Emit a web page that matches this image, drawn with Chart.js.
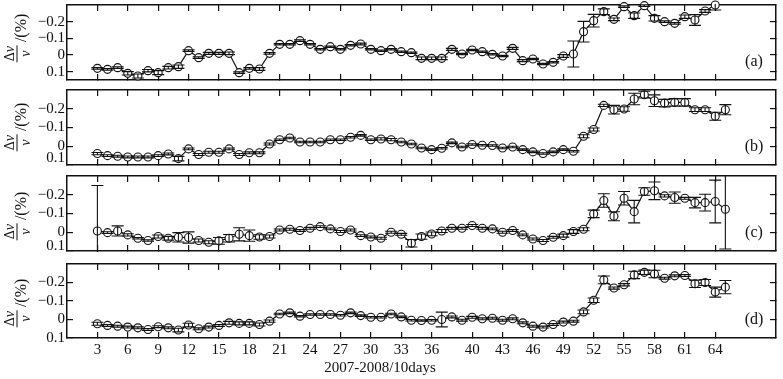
<!DOCTYPE html>
<html>
<head>
<meta charset="utf-8">
<script src="https://cdn.jsdelivr.net/npm/chart.js@4.4.0/dist/chart.umd.min.js"></script>
<style>
  html, body { margin: 0; padding: 0; background: #fff; }
  #wrap { position: relative; width: 783px; height: 379px; overflow: hidden;
          font-family: "Liberation Serif", "Times New Roman", serif; color: #111; }
  #wrap canvas { position: absolute; left: 0; }
  .ylab { position: absolute; left: 17px; transform: translate(-50%, -50%) rotate(-90deg);
          white-space: nowrap; display: flex; align-items: center; }
  .frac { display: inline-flex; flex-direction: column; align-items: center; font-size: 14px; line-height: 13px; }
  .frac .num { border-bottom: 1px solid #111; padding: 0 1px 1px; }
  .frac .den { padding-top: 1px; }
  .pct { font-size: 16px; margin-left: 3px; position: relative; top: 3px; }
  .plab { position: absolute; left: 754px; transform: translate(-50%, -50%); font-size: 16px; }
  #xtitle { position: absolute; left: 380px; top: 360px; transform: translateX(-50%);
            font-size: 15px; line-height: 15px; white-space: nowrap; }
</style>
</head>
<body>
<div id="wrap">
  <canvas id="pa" width="783" height="95" style="top:-5px"></canvas>
  <canvas id="pb" width="783" height="95" style="top:80px"></canvas>
  <canvas id="pc" width="783" height="95" style="top:166px"></canvas>
  <canvas id="pd" width="783" height="125" style="top:254px"></canvas>

  <div class="ylab" style="top:38px"><span class="frac"><span class="num">Δ<i>v</i></span><span class="den"><i>v</i></span></span><span class="pct">/(%)</span></div>
  <div class="ylab" style="top:127px"><span class="frac"><span class="num">Δ<i>v</i></span><span class="den"><i>v</i></span></span><span class="pct">/(%)</span></div>
  <div class="ylab" style="top:216px"><span class="frac"><span class="num">Δ<i>v</i></span><span class="den"><i>v</i></span></span><span class="pct">/(%)</span></div>
  <div class="ylab" style="top:303px"><span class="frac"><span class="num">Δ<i>v</i></span><span class="den"><i>v</i></span></span><span class="pct">/(%)</span></div>

  <div class="plab" style="top:61px">(a)</div>
  <div class="plab" style="top:146px">(b)</div>
  <div class="plab" style="top:232px">(c)</div>
  <div class="plab" style="top:319px">(d)</div>

  <div id="xtitle">2007-2008/10days</div>
</div>
<script>
  // x positions (10-day windows) and axis ticks
  const days = [3, 4, 5, 6, 7, 8, 9, 10, 11, 12, 13, 14, 15, 16, 17, 18, 19, 20, 21, 22, 23, 24, 25, 26, 27, 28, 29, 30,
    31, 32, 33, 34, 35, 36, 37, 38, 39, 40, 41, 42, 43, 44, 45, 46, 47, 48, 49, 50, 51, 52, 53, 54, 55, 56, 57, 58, 59,
    60, 61, 62, 63, 64, 65];
  const xTicks = [3, 6, 9, 12, 15, 18, 21, 24, 27, 30, 33, 36, 40, 43, 46, 49, 52, 55, 58, 61, 64];
  const yTicks = [-0.2, -0.1, 0, 0.1];

  // panel (a): velocity change (%) and error, days 3..64
  const dvA = [0.08, 0.086, 0.076, 0.11, 0.126, 0.094, 0.106, 0.076, 0.07, -0.026, 0.016, -0.01, -0.01, -0.01,
    0.106, 0.08, 0.084, -0.01, -0.064, -0.064, -0.086, -0.064, -0.034, -0.05, -0.034, -0.058, -0.066, -0.034,
    -0.026, -0.034, -0.02, -0.014, 0.02, 0.02, 0.02, -0.034, -0.006, -0.03, -0.02, -0.004, 0.006, -0.04, 0.034,
    0.024, 0.054, 0.044, 0.006, -0.006, -0.14, -0.206, -0.26, -0.214, -0.29, -0.236, -0.296, -0.22, -0.2, -0.19,
    -0.23, -0.21, -0.264, -0.3];
  const errA = [0.005, 0.005, 0.005, 0.01, 0.012, 0.007, 0.012, 0.008, 0.01, 0.005, 0.005, 0.006, 0.006, 0.008,
    0.005, 0.005, 0.008, 0.005, 0.004, 0.004, 0.005, 0.004, 0.004, 0.004, 0.004, 0.004, 0.005, 0.004, 0.004, 0.004,
    0.004, 0.004, 0.008, 0.008, 0.008, 0.006, 0.004, 0.004, 0.004, 0.004, 0.004, 0.006, 0.006, 0.004, 0.004, 0.004,
    0.008, 0.078, 0.062, 0.038, 0.017, 0.008, 0.005, 0.016, 0.005, 0.016, 0.005, 0.005, 0.01, 0.032, 0.008, 0.03];

  // panel (b), days 3..65
  const dvB = [0.039, 0.05, 0.053, 0.057, 0.057, 0.057, 0.05, 0.041, 0.066, 0.014, 0.044, 0.032, 0.032, 0.014,
    0.044, 0.035, 0.035, -0.012, -0.035, -0.044, -0.023, -0.023, -0.023, -0.035, -0.035, -0.048, -0.058, -0.035,
    -0.039, -0.035, -0.023, -0.012, 0.009, 0.018, 0.011, -0.018, 0.004, -0.009, -0.005, -0.004, 0.009, 0.004,
    0.018, 0.03, 0.039, 0.03, 0.018, 0.027, -0.053, -0.089, -0.218, -0.195, -0.199, -0.252, -0.275, -0.243,
    -0.23, -0.234, -0.234, -0.195, -0.195, -0.16, -0.195];
  const errB = [0.006, 0.005, 0.005, 0.005, 0.005, 0.005, 0.005, 0.005, 0.012, 0.005, 0.005, 0.005, 0.005, 0.005,
    0.005, 0.005, 0.005, 0.005, 0.004, 0.004, 0.004, 0.004, 0.004, 0.004, 0.004, 0.004, 0.004, 0.004, 0.006, 0.006,
    0.004, 0.004, 0.004, 0.004, 0.004, 0.004, 0.004, 0.004, 0.004, 0.004, 0.004, 0.004, 0.004, 0.004, 0.004, 0.004,
    0.004, 0.004, 0.008, 0.008, 0.006, 0.023, 0.012, 0.031, 0.018, 0.031, 0.02, 0.02, 0.02, 0.01, 0.01, 0.021, 0.027];

  // panel (c), days 3..65
  const dvC = [-0.007, 0.002, -0.007, 0.014, 0.032, 0.044, 0.023, 0.032, 0.027, 0.028, 0.044, 0.053, 0.046, 0.032,
    0.011, 0.018, 0.025, 0.023, -0.012, -0.016, -0.009, -0.021, -0.03, -0.018, -0.004, -0.012, 0.018, 0.025, 0.032,
    0.0, 0.011, 0.059, 0.023, 0.009, -0.007, -0.021, -0.021, -0.036, -0.021, -0.018, 0.0, -0.009, 0.014, 0.036,
    0.044, 0.027, 0.018, -0.004, -0.016, -0.098, -0.169, -0.085, -0.181, -0.11, -0.217, -0.221, -0.194, -0.185,
    -0.181, -0.158, -0.158, -0.164, -0.123];
  const errC = [0.242, 0.005, 0.027, 0.006, 0.004, 0.004, 0.008, 0.01, 0.025, 0.03, 0.008, 0.008, 0.018, 0.02,
    0.035, 0.03, 0.012, 0.008, 0.005, 0.005, 0.005, 0.005, 0.005, 0.005, 0.005, 0.005, 0.005, 0.005, 0.005, 0.005,
    0.005, 0.02, 0.014, 0.01, 0.008, 0.005, 0.005, 0.005, 0.005, 0.005, 0.005, 0.005, 0.005, 0.005, 0.005, 0.005,
    0.008, 0.01, 0.008, 0.02, 0.036, 0.024, 0.036, 0.06, 0.02, 0.047, 0.006, 0.03, 0.005, 0.028, 0.045, 0.114, 0.212];

  // panel (d), days 3..65
  const dvD = [0.023, 0.032, 0.036, 0.041, 0.045, 0.054, 0.039, 0.045, 0.057, 0.03, 0.05, 0.041, 0.032, 0.018,
    0.021, 0.021, 0.027, 0.009, -0.03, -0.036, -0.018, -0.027, -0.027, -0.027, -0.023, -0.036, -0.021, -0.012,
    -0.012, -0.03, -0.014, 0.004, 0.005, 0.004, 0.0, -0.014, 0.004, -0.012, -0.004, -0.007, 0.004, -0.004, 0.018,
    0.036, 0.041, 0.027, 0.014, 0.009, -0.041, -0.104, -0.214, -0.17, -0.188, -0.241, -0.255, -0.246, -0.223,
    -0.236, -0.238, -0.193, -0.2, -0.148, -0.175];
  const errD = [0.008, 0.005, 0.005, 0.005, 0.005, 0.005, 0.005, 0.005, 0.01, 0.01, 0.005, 0.005, 0.005, 0.008,
    0.008, 0.008, 0.008, 0.006, 0.004, 0.004, 0.004, 0.004, 0.004, 0.004, 0.004, 0.004, 0.004, 0.004, 0.004, 0.004,
    0.004, 0.004, 0.004, 0.004, 0.04, 0.005, 0.005, 0.005, 0.005, 0.005, 0.005, 0.005, 0.005, 0.005, 0.005, 0.005,
    0.005, 0.005, 0.01, 0.012, 0.021, 0.006, 0.006, 0.02, 0.012, 0.02, 0.005, 0.005, 0.005, 0.02, 0.016, 0.027, 0.036];

  const INK = '#111';
  const FONT = 'Liberation Serif';

  // draws vertical error bars with caps, using the chart's own scales
  const errorBars = {
    id: 'errorBars',
    afterDatasetsDraw(chart) {
      const { ctx, chartArea, scales } = chart;
      const x = scales.x, y = scales.y;
      ctx.save();
      ctx.beginPath();
      ctx.rect(chartArea.left, chartArea.top - 1, chartArea.width, chartArea.height + 2);
      ctx.clip();
      ctx.strokeStyle = INK;
      ctx.lineWidth = 1.1;
      chart.data.datasets.forEach(ds => {
        ds.data.forEach((p, i) => {
          const e = ds.errors[i];
          const px = x.getPixelForValue(p.x);
          const y1 = y.getPixelForValue(p.y - e);
          const y2 = y.getPixelForValue(p.y + e);
          ctx.beginPath();
          ctx.moveTo(px, y1); ctx.lineTo(px, y2);
          ctx.moveTo(px - 6, y1); ctx.lineTo(px + 6, y1);
          ctx.moveTo(px - 6, y2); ctx.lineTo(px + 6, y2);
          ctx.stroke();
        });
      });
      ctx.restore();
    }
  };

  function setTicks(list) {
    return scale => { scale.ticks = list.map(v => ({ value: v })); };
  }

  function frameAxis(extra) {
    return Object.assign({
      type: 'linear',
      grid: { drawOnChartArea: false, drawTicks: true, tickLength: -6, color: INK, lineWidth: 1.2 },
      border: { display: true, color: INK, width: 1.5 }
    }, extra);
  }

  function fmt(v) {
    return v === 0 ? '0' : (v < 0 ? '\u2212' + Math.abs(v).toFixed(1) : v.toFixed(1));
  }

  // lift: pixels the bottom "0.1" label is raised above its tick (as in the original figure)
  function makePanel(id, values, errors, yMax, showX, bottomH, lift) {
    const points = values.map((v, i) => ({ x: days[i], y: v }));
    return new Chart(document.getElementById(id), {
      type: 'line',
      data: {
        datasets: [{
          data: points,
          errors: errors,
          borderColor: INK,
          borderWidth: 1.2,
          pointRadius: 4,
          pointBorderWidth: 1.1,
          pointBorderColor: INK,
          pointBackgroundColor: '#fff',
          tension: 0,
          clip: false
        }]
      },
      options: {
        responsive: false,
        animation: false,
        events: [],
        layout: { padding: { top: 10, right: 7, left: 0, bottom: 0 } },
        plugins: { legend: { display: false }, tooltip: { enabled: false } },
        scales: {
          x: frameAxis({
            position: 'bottom', min: 0, max: 70,
            afterBuildTicks: setTicks(xTicks),
            afterFit: s => { s.height = bottomH; s.paddingLeft = 0; s.paddingRight = 0; },
            ticks: { display: showX, autoSkip: false, maxRotation: 0, padding: 9, color: INK,
                     font: { family: FONT, size: 15 } }
          }),
          x2: frameAxis({
            position: 'top', min: 0, max: 70,
            afterBuildTicks: setTicks(xTicks),
            afterFit: s => { s.height = 0; s.paddingLeft = 0; s.paddingRight = 0; },
            ticks: { display: false }
          }),
          y: frameAxis({
            position: 'left', reverse: true, min: -0.3, max: yMax,
            afterBuildTicks: setTicks(yTicks),
            afterFit: s => { s.width = 67; s.paddingTop = 0; s.paddingBottom = 0; },
            ticks: {
              autoSkip: false, padding: 8, color: INK,
              font: ctx => (lift && ctx.tick && ctx.tick.value === 0.1)
                ? { family: FONT, size: 15, lineHeight: (2 * lift) / 15 }
                : { family: FONT, size: 15 },
              callback: v => (lift && v === 0.1) ? [fmt(v), ''] : fmt(v)
            }
          }),
          y2: frameAxis({
            position: 'right', reverse: true, min: -0.3, max: yMax,
            afterBuildTicks: setTicks(yTicks),
            afterFit: s => { s.width = 0; s.paddingTop = 0; s.paddingBottom = 0; },
            ticks: { display: false }
          })
        }
      },
      plugins: [errorBars]
    });
  }

  makePanel('pa', dvA, errA, 0.15, false, 10, 0);
  makePanel('pb', dvB, errB, 0.1, false, 10, 7);
  makePanel('pc', dvC, errC, 0.1, false, 10, 5);
  makePanel('pd', dvD, errD, 0.1, true, 41, 0);
</script>
</body>
</html>
